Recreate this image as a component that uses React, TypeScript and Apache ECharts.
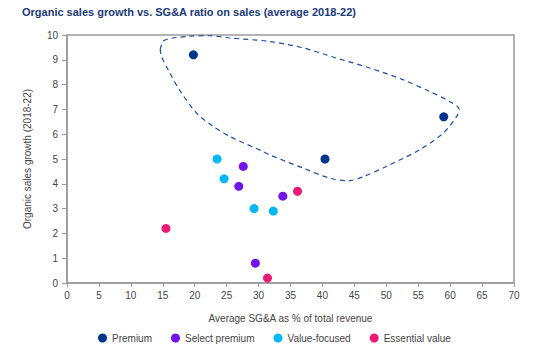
import React, { useEffect, useRef } from "react";
import * as echarts from "echarts";

const title = "Organic sales growth vs. SG&A ratio on sales (average 2018-22)";
const xAxisName = "Average SG&A as % of total revenue";
const yAxisName = "Organic sales growth (2018-22)";

const seriesNames = ["Premium", "Select premium", "Value-focused", "Essential value"];
const seriesColors = ["#00338d", "#7213ea", "#00b8f5", "#ec1a76"];

const premium: [number, number][] = [
  [19.8, 9.2],
  [40.4, 5.0],
  [59.0, 6.7],
];
const selectPremium: [number, number][] = [
  [27.6, 4.7],
  [26.9, 3.9],
  [33.8, 3.5],
  [29.5, 0.8],
];
const valueFocused: [number, number][] = [
  [23.5, 5.0],
  [24.6, 4.2],
  [29.3, 3.0],
  [32.3, 2.9],
];
const essentialValue: [number, number][] = [
  [15.5, 2.2],
  [36.1, 3.7],
  [31.4, 0.2],
];

const highlightOutline: [number, number][] = [
  [14.6, 9.41],
  [15.2, 9.78],
  [18.7, 9.94],
  [22.3, 9.97],
  [25.5, 9.88],
  [31.7, 9.74],
  [37.0, 9.48],
  [42.2, 9.07],
  [47.4, 8.67],
  [52.6, 8.2],
  [56.8, 7.72],
  [59.9, 7.32],
  [61.4, 7.01],
  [61.0, 6.71],
  [58.9, 6.04],
  [55.2, 5.37],
  [50.0, 4.7],
  [46.4, 4.29],
  [44.0, 4.12],
  [41.1, 4.23],
  [37.0, 4.63],
  [31.7, 5.17],
  [30.7, 5.3],
  [25.5, 5.91],
  [22.9, 6.31],
  [20.3, 6.85],
  [17.6, 7.79],
  [16.1, 8.47],
  [14.8, 9.14],
  [14.6, 9.41],
];

const allData = [premium, selectPremium, valueFocused, essentialValue];

export default function App() {
  const ref = useRef<HTMLDivElement>(null);
  useEffect(() => {
    document.body.style.margin = "0";
    const chart = echarts.init(ref.current!, null, { renderer: "svg" });
    const axisColor = "#9a9a9a";
    const labelColor = "#444";
    const font = "Liberation Sans, Arial, sans-serif";
    chart.setOption({
      animation: false,
      backgroundColor: "#fff",
      title: {
        text: title,
        left: 17,
        top: 1,
        textStyle: {
          color: "#1c3a78",
          fontSize: 11,
          fontWeight: "bold",
          fontFamily: font,
        },
      },
      grid: {
        left: 67,
        right: 20,
        top: 35,
        bottom: 70,
        show: true,
        borderColor: axisColor,
        borderWidth: 1.5,
      },
      legend: {
        data: seriesNames,
        bottom: 5,
        left: 93,
        icon: "circle",
        itemWidth: 9,
        itemHeight: 9,
        itemGap: 19,
        textStyle: { color: labelColor, fontSize: 10, fontFamily: font },
      },
      xAxis: {
        type: "value",
        min: 0,
        max: 70,
        interval: 5,
        name: xAxisName,
        nameLocation: "middle",
        nameGap: 30,
        nameTextStyle: { color: labelColor, fontSize: 10, fontFamily: font },
        axisLine: { show: true, lineStyle: { color: axisColor, width: 1.5 } },
        axisTick: { show: true, length: 4, lineStyle: { color: axisColor } },
        axisLabel: { color: labelColor, fontSize: 10, fontFamily: font, margin: 7 },
        splitLine: { show: false },
      },
      yAxis: {
        type: "value",
        min: 0,
        max: 10,
        interval: 1,
        name: yAxisName,
        nameLocation: "middle",
        nameGap: 35,
        nameRotate: 90,
        nameTextStyle: { color: labelColor, fontSize: 10, fontFamily: font },
        axisLine: { show: true, lineStyle: { color: axisColor, width: 1.5 } },
        axisTick: { show: true, length: 5, lineStyle: { color: axisColor } },
        axisLabel: { color: labelColor, fontSize: 10, fontFamily: font, margin: 9 },
        splitLine: { show: false },
      },
      series: [
        ...seriesNames.map((name, i) => ({
          name,
          type: "scatter",
          data: allData[i],
          symbol: "circle",
          symbolSize: 9,
          itemStyle: { color: seriesColors[i], opacity: 1 },
          z: 3,
        })),
        {
          name: "outline",
          type: "line",
          data: highlightOutline,
          smooth: 0.3,
          showSymbol: false,
          symbol: "none",
          lineStyle: { color: "#1f4ba0", width: 1.2, type: [5, 4] },
          z: 2,
          silent: true,
        },
      ],
    });
    return () => chart.dispose();
  }, []);
  return <div ref={ref} style={{ width: 534, height: 353 }} />;
}
